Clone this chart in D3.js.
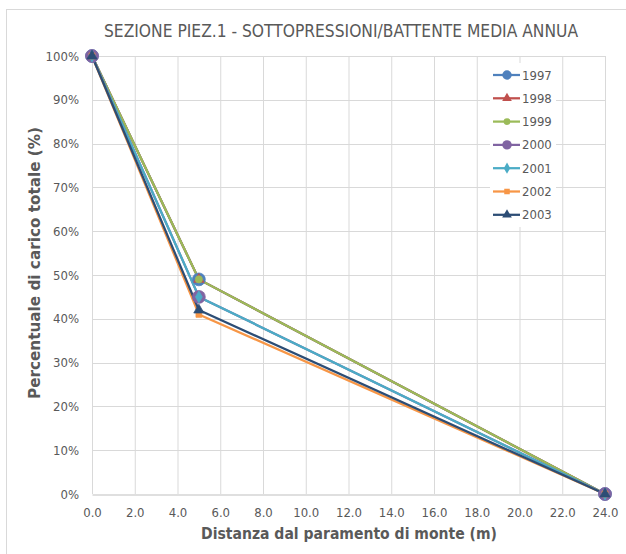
<!DOCTYPE html>
<html>
<head>
<meta charset="utf-8">
<script src="https://cdn.jsdelivr.net/npm/d3@7"></script>
<style>
  body { margin: 0; background: #fff; }
  text { font-family: "DejaVu Sans Condensed", "DejaVu Sans", sans-serif; }
</style>
</head>
<body>
<svg id="chart" width="626" height="554"></svg>
<script>
// Distance from the upstream face (m) at each piezometer
const distances = [0, 5, 24];
const years = ["1997", "1998", "1999", "2000", "2001", "2002", "2003"];
// Share of total head (%) at each distance, one array per year
const s1997 = [100, 49, 0];
const s1998 = [100, 49, 0];
const s1999 = [100, 49, 0];
const s2000 = [100, 45, 0];
const s2001 = [100, 45, 0];
const s2002 = [100, 41, 0];
const s2003 = [100, 42, 0];
const xTicks = d3.range(0, 24.01, 2);
const yTicks = d3.range(0, 100.01, 10);

const seriesValues = [s1997, s1998, s1999, s2000, s2001, s2002, s2003];
const colors = ["#4F81BD", "#C0504D", "#9BBB59", "#8064A2", "#4BACC6", "#F79646", "#2C4D75"];
const markers = [
  { type: d3.symbolCircle, size: 130 },
  { type: d3.symbolTriangle, size: 45 },
  { type: d3.symbolCircle, size: 40 },
  { type: d3.symbolCircle, size: 130 },
  { type: d3.symbolDiamond, size: 40 },
  { type: d3.symbolSquare, size: 34 },
  { type: d3.symbolTriangle, size: 45 }
];

const svg = d3.select("#chart");
const textColor = "#595959";

// chart frame
svg.append("rect").attr("x", 6.5).attr("y", 9.5).attr("width", 640).attr("height", 560)
  .attr("fill", "#fff").attr("stroke", "#d9d9d9");

const plot = { left: 92, right: 605, top: 56, bottom: 494 };
const x = d3.scaleLinear().domain([0, 24]).range([plot.left, plot.right]);
const y = d3.scaleLinear().domain([0, 100]).range([plot.bottom, plot.top]);

// gridlines
const grid = svg.append("g");
grid.selectAll(".gx").data(xTicks).join("line")
  .attr("x1", d => x(d) + 0.5).attr("x2", d => x(d) + 0.5)
  .attr("y1", plot.top).attr("y2", plot.bottom)
  .attr("stroke", "#d9d9d9").attr("stroke-width", 1);
grid.selectAll(".gy").data(yTicks.filter(d => d > 0)).join("line")
  .attr("x1", plot.left).attr("x2", plot.right)
  .attr("y1", d => Math.round(y(d)) + 0.5).attr("y2", d => Math.round(y(d)) + 0.5)
  .attr("stroke", "#d9d9d9").attr("stroke-width", 1);

// x axis
const xAxis = svg.append("g").attr("transform", `translate(0,${Math.round(plot.bottom) + 0.5})`)
  .call(d3.axisBottom(x).tickValues(xTicks).tickFormat(d3.format(".1f")).tickSize(0).tickPadding(13));
xAxis.select(".domain").attr("stroke", "#bfbfbf");
xAxis.selectAll("text").attr("fill", textColor).style("font-size", "13px")
  .style("font-family", "'DejaVu Sans Condensed', 'DejaVu Sans', sans-serif");

// y axis
const yAxis = svg.append("g").attr("transform", `translate(${plot.left},0)`)
  .call(d3.axisLeft(y).tickValues(yTicks).tickFormat(d => d + "%").tickSize(0).tickPadding(13));
yAxis.select(".domain").remove();
yAxis.selectAll("text").attr("fill", textColor).style("font-size", "13px")
  .style("font-family", "'DejaVu Sans Condensed', 'DejaVu Sans', sans-serif");

// series lines and markers
const line = d3.line().x(d => x(d[0])).y(d => y(d[1]));
seriesValues.forEach((vals, i) => {
  const pts = distances.map((d, j) => [d, vals[j]]);
  svg.append("path").datum(pts).attr("d", line)
    .attr("fill", "none").attr("stroke", colors[i]).attr("stroke-width", 2.25)
    .attr("stroke-linejoin", "round");
});
seriesValues.forEach((vals, i) => {
  const pts = distances.map((d, j) => [d, vals[j]]);
  const sym = d3.symbol().type(markers[i].type).size(markers[i].size);
  svg.append("g").selectAll("path").data(pts).join("path")
    .attr("transform", d => `translate(${x(d[0])},${y(d[1])})`)
    .attr("d", sym()).attr("fill", colors[i]).attr("stroke", colors[i]).attr("stroke-width", 0.75);
});

// legend
const legend = svg.append("g");
legend.append("rect").attr("x", 490).attr("y", 63).attr("width", 66).attr("height", 164).attr("fill", "#fff");
years.forEach((yr, i) => {
  const ly = 75 + i * 23.3;
  const g = legend.append("g").attr("transform", `translate(0,${ly})`);
  g.append("line").attr("x1", 493).attr("x2", 520).attr("y1", 0).attr("y2", 0)
    .attr("stroke", colors[i]).attr("stroke-width", 2.25);
  const sz = markers[i].size === 130 ? 70 : markers[i].size * 0.9;
  g.append("path").attr("transform", "translate(507,0)")
    .attr("d", d3.symbol().type(markers[i].type).size(sz)()).attr("fill", colors[i]);
  g.append("text").attr("x", 522).attr("y", 0).attr("dy", "0.35em")
    .attr("fill", textColor).style("font-size", "13px")
    .style("font-family", "'DejaVu Sans Condensed', 'DejaVu Sans', sans-serif").text(yr);
});

// titles
svg.append("text").attr("x", 341).attr("y", 37).attr("text-anchor", "middle")
  .attr("fill", textColor).style("font-size", "17px")
  .attr("textLength", 474).attr("lengthAdjust", "spacingAndGlyphs")
  .text("SEZIONE PIEZ.1 - SOTTOPRESSIONI/BATTENTE MEDIA ANNUA");

svg.append("text").attr("x", 349).attr("y", 539).attr("text-anchor", "middle")
  .attr("fill", textColor).style("font-size", "15px").style("font-weight", "bold")
  .style("font-family", "'DejaVu Sans', sans-serif")
  .attr("textLength", 296).attr("lengthAdjust", "spacingAndGlyphs")
  .text("Distanza dal paramento di monte (m)");

svg.append("text").attr("transform", "translate(40,263) rotate(-90)").attr("text-anchor", "middle")
  .attr("fill", textColor).style("font-size", "15px").style("font-weight", "bold")
  .style("font-family", "'DejaVu Sans', sans-serif")
  .attr("textLength", 272).attr("lengthAdjust", "spacingAndGlyphs")
  .text("Percentuale di carico totale (%)");
</script>
</body>
</html>
